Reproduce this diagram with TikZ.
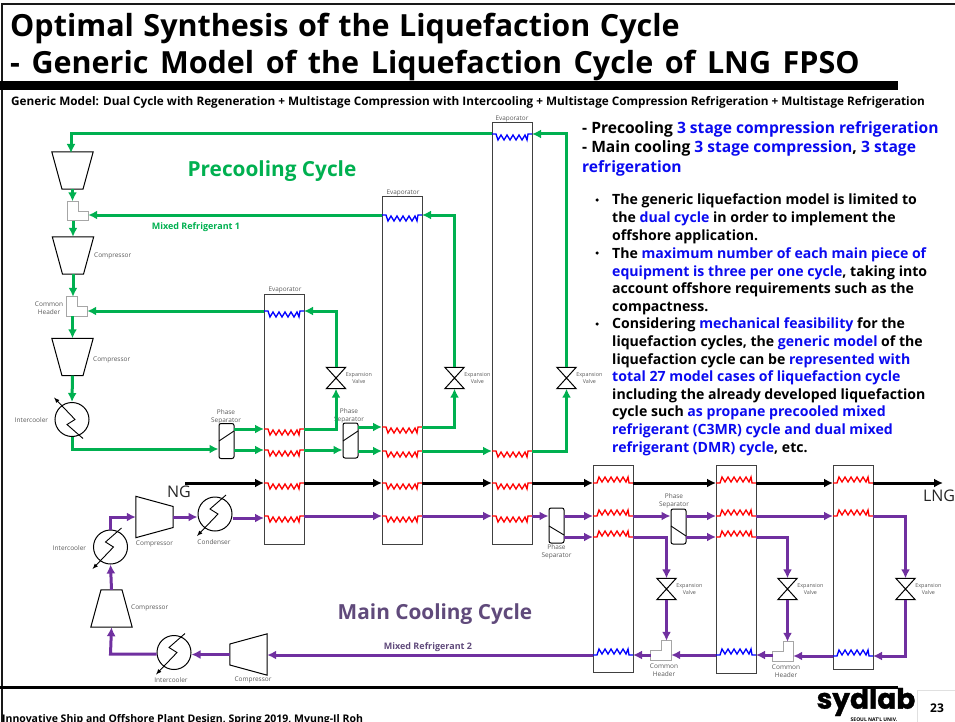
\documentclass[tikz,border=0pt]{standalone}
\usepackage{fontspec}
\setmainfont{Open Sans}
\newfontfamily\logofont[BoldFeatures={FakeBold=1.2}]{Poppins}
\usetikzlibrary{calc,arrows.meta}
\definecolor{mrgreen}{HTML}{00B050}
\definecolor{mrpurple}{HTML}{7030A0}
\definecolor{titlepurple}{HTML}{604A7B}
\definecolor{hilite}{HTML}{0A0AF0}
\newcommand{\hl}[1]{\textcolor{hilite}{#1}}
\tikzset{
  column/.style={draw=black!75,line width=1pt,minimum width=40pt,inner sep=0pt},
  tiny/.style={text=black!65,font=\fontsize{6.5}{8}\selectfont,align=center,inner sep=0pt},
  vtiny/.style={text=black!65,font=\fontsize{5.4}{6.4}\selectfont,align=center,inner sep=0pt},
  precool/.style={draw=mrgreen,line width=3pt,-{Latex[length=9pt,width=9pt]}},
  maincool/.style={draw=mrpurple,line width=3pt,-{Latex[length=9pt,width=9pt]}},
  feed/.style={draw=black,line width=3pt,-{Latex[length=9pt,width=9pt]}},
  machine/.style={minimum width=41pt,minimum height=37pt,inner sep=0pt},
  sideways/.style={minimum width=37pt,minimum height=41pt,inner sep=0pt},
  cooler/.style={draw=black,line width=1pt,circle,minimum size=34pt,inner sep=0pt},
  vessel/.style={draw=black,line width=1pt,rounded corners=2pt,minimum width=15pt,
    minimum height=35pt,inner sep=0pt},
  valve/.style={minimum width=19pt,minimum height=21pt,inner sep=0pt},
  header/.style={minimum width=20pt,minimum height=19pt,inner sep=0pt},
  body/.style={anchor=north west,align=left,inner sep=0pt,font=\bfseries\fontsize{14.1}{17.6}\selectfont},
  coil/.pic={
    \coordinate (-w) at (0,0);
    \coordinate (-e) at (40,0);
    \draw[#1,line width=1.3pt] (0,0) -- (4,0) -- (6,6) -- (9,1) -- (12,6) -- (15,1) -- (18,6) -- (21,1)
      -- (24,6) -- (27,1) -- (30,6) -- (33,1) -- (35,6) -- (36,0) -- (40,0);
  },
  bolt/.pic={
    \draw[black,line width=.9pt,-latex] (11,-19) -- (-5,-5) -- (3,0) -- (-18,22);
  }
}
\begin{document}
\begin{tikzpicture}[x=1pt,y=-1pt]
    \useasboundingbox (0,0) rectangle (955,722);
    % Frame
    \draw[black!90,line width=2pt] (1.5,722) -- (1.5,4) -- (955,4);
    \fill[black] (0,81) rectangle (898,90);
    \fill[black] (0,686) rectangle (898,688.5);
    \node[anchor=base west,inner sep=0pt,font=\bfseries\fontsize{30.5}{36}\selectfont] (TitleA) at (10,37) {\spaceskip=9.5pt Optimal Synthesis of the Liquefaction Cycle};
    \node[anchor=base west,inner sep=0pt,font=\bfseries\fontsize{30.5}{36}\selectfont] (TitleB) at (10,74) {\spaceskip=11.5pt - Generic Model of the Liquefaction Cycle of LNG FPSO};
    \node[anchor=base west,inner sep=0pt,font=\bfseries\fontsize{11.75}{13}\selectfont] (Subtitle) at (11,106) {Generic Model: Dual Cycle with Regeneration + Multistage Compression with Intercooling + Multistage Compression Refrigeration + Multistage Refrigeration};
    \node[anchor=base west,inner sep=0pt,font=\bfseries\fontsize{10.5}{12}\selectfont] (Footer) at (2,722) {Innovative Ship and Offshore Plant Design, Spring 2019, Myung-Il Roh};
    \node[inner sep=0pt,font=\logofont\bfseries\fontsize{28}{28}\selectfont] (Logo) at (866,702) {sydlab};
    \node[inner sep=0pt,font=\bfseries\fontsize{5}{6}\selectfont] (LogoSub) at (874,720) {SEOUL NAT'L UNIV.};
    \draw[black!12,line width=.6pt] (917,722) -- (917,690) -- (955,690);
    \node[inner sep=0pt,font=\bfseries\fontsize{12}{14}\selectfont] (PageNo) at (937,708) {23};

    % Columns
    \foreach \n/\x/\top/\bot in {ColA/284/294/544,ColB/402.5/197/544,ColC/512/123/544,
                                 ColD/613.5/465/672,ColE/736/465/673,ColF/853/465/669}{%
      \node[column,minimum height={(\bot-\top)*1pt}] (\n) at (\x,{(\top+\bot)/2}) {};
    }
    \node[tiny,font=\fontsize{6.4}{7}\selectfont] (EvapA) at (285,290) {Evaporator};
    \node[tiny,font=\fontsize{6.4}{7}\selectfont] (EvapB) at (403,193) {Evaporator};
    \node[tiny,font=\fontsize{6.4}{7}\selectfont] (EvapC) at (512,119) {Evaporator};

    % Heat exchanger coils
    \foreach \n/\x/\y in {A1/264/429,A2/264/450,A3/264/483,A4/264/516,
                          B1/382/427,B2/382/451,B3/382/483,B4/382/516,
                          C2/492/451,C3/492/483,C4/492/516}{%
      \pic (\n) at (\x,\y) {coil=red};
    }
    \foreach \n/\x/\y in {D3/593/483,D4/593/516,D5/593/537,
                          E3/716/483,E4/716/516,E5/716/537,
                          F3/833/483,F4/833/516}{%
      \pic[yscale=-1] (\n) at (\x,\y) {coil=red};
    }
    \foreach \n/\x/\y in {A0/264/311,B0/382/215,C0/492/134}{%
      \pic (\n) at (\x,\y) {coil=blue};
    }
    \foreach \n/\x/\y in {D6/593/655,E6/716/655,F6/833/656}{%
      \pic[yscale=-1] (\n) at (\x,\y) {coil=blue};
    }

    % Valves
    \foreach \n/\x/\y in {VlvA/336/378,VlvB/454.5/378,VlvC/566.5/378,
                          VlvD/666.5/589,VlvE/787.5/589,VlvF/905.5/589}{%
      \node[valve] (\n) at (\x,\y) {};
      \draw[black,line width=1pt] (\n.north west) -- (\n.north east) -- (\n.south west)
        -- (\n.south east) -- cycle;
      \node[vtiny,anchor=west] (\n Text) at (\n.east) {Expansion\\Valve};
    }

    % Headers, open corner at the top right
    \foreach \n/\x/\y in {HdrA/78/211,HdrB/77/306.5}{%
      \node[header] (\n) at (\x,\y) {};
      \draw[black!35,line width=1pt] (\n.south west) -- (\n.north west) -- (\n.north)
        -- (\n.center) -- (\n.east) -- (\n.south east) -- cycle;
    }
    % Headers, open corner at the top left
    \foreach \n/\x/\y in {HdrC/661/650.5,HdrD/783/651.5}{%
      \node[header] (\n) at (\x,\y) {};
      \draw[black!35,line width=1pt] (\n.south east) -- (\n.north east) -- (\n.north)
        -- (\n.center) -- (\n.west) -- (\n.south west) -- cycle;
      \node[tiny,anchor=north] (\n Text) at ($(\n.south)+(3,3.5)$) {Common\\Header};
    }
    \node[tiny] (HdrBText) at (49,308) {Common\\Header};

    % Compressors
    \foreach \n/\x/\y in {CompA/72.5/170.5,CompB/73/255.5,CompC/72.5/357}{%
      \node[machine] (\n) at (\x,\y) {};
      \draw[black,line width=1pt] (\n.north west) -- (\n.north east)
        -- ($(\n.south)+(10.5,0)$) -- ($(\n.south)+(-10.5,0)$) -- cycle;
    }
    \node[machine] (CompD) at (111.5,608.5) {};
    \draw[black,line width=1pt] (CompD.south west) -- (CompD.south east)
      -- ($(CompD.north)+(10.5,0)$) -- ($(CompD.north)+(-10.5,0)$) -- cycle;
    \node[sideways] (CompE) at (154.5,517) {};
    \draw[black,line width=1pt] (CompE.north west) -- (CompE.south west)
      -- ($(CompE.east)+(0,10.5)$) -- ($(CompE.east)+(0,-10.5)$) -- cycle;
    \node[sideways] (CompF) at (248.5,654.5) {};
    \draw[black,line width=1pt] (CompF.north east) -- (CompF.south east)
      -- ($(CompF.west)+(0,10.5)$) -- ($(CompF.west)+(0,-10.5)$) -- cycle;
    \node[tiny,anchor=west] (CompBText) at (94,256) {Compressor};
    \node[tiny,anchor=west] (CompCText) at (93,360) {Compressor};
    \node[tiny,anchor=west] (CompDText) at (131,608) {Compressor};
    \node[tiny] (CompEText) at (154.5,544) {Compressor};
    \node[tiny] (CompFText) at (253,680) {Compressor};

    % Coolers
    \node[cooler] (CoolA) at (72,419.5) {};
    \node[cooler] (CoolB) at (110.5,547) {};
    \node[cooler] (CoolC) at (215,514) {};
    \node[cooler] (CoolD) at (174,652.5) {};
    \pic[yscale=-1] at (CoolA) {bolt};
    \pic at (CoolB) {bolt};
    \pic at (CoolC) {bolt};
    \pic at (CoolD) {bolt};
    \node[tiny] (CoolAText) at (31.5,420.5) {Intercooler};
    \node[tiny] (CoolBText) at (69.5,548.5) {Intercooler};
    \node[tiny] (CoolCText) at (214,542.5) {Condenser};
    \node[tiny] (CoolDText) at (171,680) {Intercooler};

    % Phase separators
    \node[vessel] (SepA) at (226.5,441) {};
    \node[vessel] (SepB) at (350.5,440.5) {};
    \node[vessel] (SepC) at (556.5,525.5) {};
    \node[vessel] (SepD) at (678.5,526.5) {};
    \draw[black,line width=.9pt] (219,441) -- (234,431);
    \draw[black,line width=.9pt] (343,441) -- (358,431);
    \draw[black,line width=.9pt] (549,526) -- (564,535);
    \draw[black,line width=.9pt] (671,526) -- (686,536);
    \node[tiny,anchor=south] (SepAText) at (226,424) {Phase\\Separator};
    \node[tiny,anchor=south] (SepBText) at (349,423) {Phase\\Separator};
    \node[tiny,anchor=north] (SepCText) at (556.5,544.5) {Phase\\Separator};
    \node[tiny,anchor=south] (SepDText) at (674,508) {Phase\\Separator};

    % Precooling cycle
    \draw[precool] (C0-w) -- (71,134) -- (71,153);
    \draw[precool] (CompA.south) -- (CompA.south |- HdrA.north);
    \draw[precool] (B0-w) -- (HdrA.east |- B0-w);
    \draw[precool] (CompB.north |- HdrA.south) -- (CompB.north);
    \draw[precool] (CompB.south) -- (CompB.south |- HdrB.north);
    \draw[precool] (A0-w) -- (HdrB.east |- A0-w);
    \draw[precool] (CompC.north |- HdrB.south) -- (CompC.north);
    \draw[precool] (CompC.south) -- (CoolA.north);
    \draw[precool] (CoolA.south) -- (72,449) -- (SepA.west |- 0,449);
    \draw[precool] (234,429) -- (A1-w);
    \draw[precool] (234,450) -- (A2-w);
    \draw[precool] (A1-e) -- (336,429) -- (VlvA.south);
    \draw[precool] (VlvA.north) -- (336,311) -- (A0-e);
    \draw[precool] (A2-e) -- (SepB.west |- 0,450);
    \draw[precool] (358,427) -- (B1-w);
    \draw[precool] (358,451) -- (B2-w);
    \draw[precool] (B1-e) -- (454.5,427) -- (VlvB.south);
    \draw[precool] (VlvB.north) -- (454.5,215) -- (B0-e);
    \draw[precool] (B2-e) -- (C2-w);
    \draw[precool] (C2-e) -- (566.5,451) -- (VlvC.south);
    \draw[precool] (VlvC.north) -- (566.5,134) -- (C0-e);

    % Natural gas
    \coordinate (FeedIn) at (185,483);
    \coordinate (FeedOut) at (943,483);
    \draw[feed] (FeedIn) -- (A3-w);
    \draw[feed] (A3-e) -- (B3-w);
    \draw[feed] (B3-e) -- (C3-w);
    \draw[feed] (C3-e) -- (D3-w);
    \draw[feed] (D3-e) -- (E3-w);
    \draw[feed] (E3-e) -- (F3-w);
    \draw[feed] (F3-e) -- (FeedOut);

    % Main cooling cycle
    \draw[maincool] (CoolB.north) -- (110.5,517) -- (CompE.west);
    \draw[maincool] (CompE.east) -- (CoolC.west |- CompE.east);
    \draw[maincool] (CoolC.east |- 0,518) -- (A4-w |- 0,518);
    \draw[maincool] (A4-e) -- (B4-w);
    \draw[maincool] (B4-e) -- (C4-w);
    \draw[maincool] (C4-e) -- (SepC.west |- 0,516);
    \draw[maincool] (564,516) -- (D4-w);
    \draw[maincool] (564,537) -- (D5-w);
    \draw[maincool] (D4-e) -- (SepD.west |- 0,516);
    \draw[maincool] (686,516) -- (E4-w);
    \draw[maincool] (686,537) -- (E5-w);
    \draw[maincool] (D5-e) -- (666.5,537) -- (VlvD.north);
    \draw[maincool] (VlvD.south) -- (VlvD.south |- HdrC.north);
    \draw[maincool] (E6-w) -- (HdrC.east |- E6-w);
    \draw[maincool] (HdrC.west |- D6-e) -- (D6-e);
    \draw[maincool] (D6-w) -- (CompF.east |- D6-w);
    \draw[maincool] (E4-e) -- (F4-w);
    \draw[maincool] (E5-e) -- (787.5,537) -- (VlvE.north);
    \draw[maincool] (VlvE.south) -- (VlvE.south |- HdrD.north);
    \draw[maincool] (F6-w) -- (HdrD.east |- F6-w);
    \draw[maincool] (HdrD.west |- E6-e) -- (E6-e);
    \draw[maincool] (F4-e) -- (905.5,516) -- (VlvF.north);
    \draw[maincool] (VlvF.south) -- (905.5,656) -- (F6-e);
    \draw[maincool] (CompF.west) -- (CoolD.east |- CompF.west);
    \draw[maincool] (CoolD.west |- 0,654) -- (110.5,654) -- (CompD.south);
    \draw[maincool] (CompD.north) -- (CoolB.south);

    % Labels
    \node[inner sep=0pt,text=mrgreen,font=\bfseries\fontsize{20.8}{24}\selectfont] (PreText) at (272,171) {Precooling Cycle};
    \node[inner sep=0pt,text=titlepurple,font=\bfseries\fontsize{20.8}{24}\selectfont] (MainText) at (435,614) {Main Cooling Cycle};
    \node[inner sep=0pt,text=mrgreen,font=\bfseries\fontsize{9}{11}\selectfont] (MrOneText) at (196,227) {Mixed Refrigerant 1};
    \node[inner sep=0pt,text=titlepurple,font=\bfseries\fontsize{9}{11}\selectfont] (MrTwoText) at (428,647) {Mixed Refrigerant 2};
    \node[inner sep=0pt,text=black!85,font=\fontsize{16}{18}\selectfont] (NgText) at (179,492) {NG};
    \node[inner sep=0pt,text=black!85,font=\fontsize{16}{18}\selectfont] (LngText) at (939,496) {LNG};

    % Text on the right
    \node[body,font=\bfseries\fontsize{15.6}{19.5}\selectfont] (Head) at (582,121)
      {- Precooling \hl{3 stage compression refrigeration}\\
       - Main cooling \hl{3 stage compression}, \hl{3 stage}\\
       \hl{refrigeration}};
    \node[body] (NoteA) at (612,194)
      {The generic liquefaction model is limited to\\
       the \hl{dual cycle} in order to implement the\\
       offshore application.};
    \node[body] (NoteB) at (612,247.5)
      {The \hl{maximum number of each main piece of}\\
       \hl{equipment is three per one cycle}, taking into\\
       account offshore requirements such as the\\
       compactness.};
    \node[body] (NoteC) at (612,318)
      {Considering \hl{mechanical feasibility} for the\\
       liquefaction cycles, the \hl{generic model} of the\\
       liquefaction cycle can be \hl{represented with}\\
       \hl{total 27 model cases of liquefaction cycle}\\
       including the already developed liquefaction\\
       cycle such \hl{as propane precooled mixed}\\
       \hl{refrigerant (C3MR) cycle and dual mixed}\\
       \hl{refrigerant (DMR) cycle}, etc.};
    \foreach \n/\y in {DotA/200,DotB/253,DotC/324}{%
      \node[circle,fill=black,inner sep=0pt,minimum size=3.5pt] (\n) at (597,\y) {};
    }
\end{tikzpicture}
\end{document}
